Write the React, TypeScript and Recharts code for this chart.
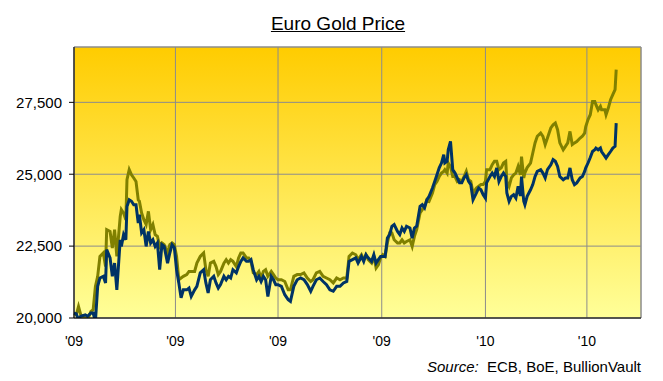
import React from 'react';
import {
  LineChart,
  Line,
  XAxis,
  YAxis,
  CartesianGrid,
  ReferenceArea,
} from 'recharts';

const dates = [
  '2009-01-01', '2009-01-03', '2009-01-05', '2009-01-07', '2009-01-11', '2009-01-13', '2009-01-16', '2009-01-18', '2009-01-20', '2009-01-22', '2009-01-24', '2009-01-27', '2009-01-29', '2009-01-30',
  '2009-02-02', '2009-02-04', '2009-02-06', '2009-02-08', '2009-02-11', '2009-02-12', '2009-02-14', '2009-02-16', '2009-02-17', '2009-02-19', '2009-02-21', '2009-02-23', '2009-02-25', '2009-02-27', '2009-02-28',
  '2009-03-02', '2009-03-04', '2009-03-06', '2009-03-08', '2009-03-10', '2009-03-12', '2009-03-14', '2009-03-16', '2009-03-18', '2009-03-20', '2009-03-22', '2009-03-25', '2009-03-27', '2009-03-29', '2009-03-31',
  '2009-04-02', '2009-04-04', '2009-04-06', '2009-04-08', '2009-04-11', '2009-04-13', '2009-04-15', '2009-04-18', '2009-04-20', '2009-04-23', '2009-04-26', '2009-04-28', '2009-04-30',
  '2009-05-02', '2009-05-05', '2009-05-07', '2009-05-09', '2009-05-11', '2009-05-14', '2009-05-16', '2009-05-18', '2009-05-20', '2009-05-22', '2009-05-25', '2009-05-27', '2009-05-29', '2009-05-31',
  '2009-06-03', '2009-06-05', '2009-06-07', '2009-06-09', '2009-06-12', '2009-06-14', '2009-06-16', '2009-06-18', '2009-06-20', '2009-06-22', '2009-06-25', '2009-06-27', '2009-06-29',
  '2009-07-01', '2009-07-04', '2009-07-07', '2009-07-10', '2009-07-12', '2009-07-15', '2009-07-18', '2009-07-21', '2009-07-24', '2009-07-27', '2009-07-30',
  '2009-08-01', '2009-08-04', '2009-08-07', '2009-08-10', '2009-08-13', '2009-08-16', '2009-08-19', '2009-08-22', '2009-08-25', '2009-08-28', '2009-08-31',
  '2009-09-02', '2009-09-05', '2009-09-08', '2009-09-10', '2009-09-13', '2009-09-15', '2009-09-17', '2009-09-19', '2009-09-22', '2009-09-24', '2009-09-26', '2009-09-28', '2009-09-30',
  '2009-10-02', '2009-10-04', '2009-10-06', '2009-10-08', '2009-10-10', '2009-10-12', '2009-10-15', '2009-10-17', '2009-10-19', '2009-10-21', '2009-10-23', '2009-10-26', '2009-10-28', '2009-10-30',
  '2009-11-01', '2009-11-04', '2009-11-06', '2009-11-08', '2009-11-10', '2009-11-12', '2009-11-15', '2009-11-17', '2009-11-19', '2009-11-21', '2009-11-23', '2009-11-25', '2009-11-26', '2009-11-28', '2009-11-29',
  '2009-12-01', '2009-12-03', '2009-12-05', '2009-12-07', '2009-12-09', '2009-12-11', '2009-12-13', '2009-12-15', '2009-12-17', '2009-12-19', '2009-12-21', '2009-12-24', '2009-12-26', '2009-12-28', '2009-12-30',
  '2010-01-01', '2010-01-02', '2010-01-05', '2010-01-07', '2010-01-09', '2010-01-11', '2010-01-13', '2010-01-15', '2010-01-17', '2010-01-19', '2010-01-20', '2010-01-22', '2010-01-24', '2010-01-26', '2010-01-28', '2010-01-30',
  '2010-02-01', '2010-02-02', '2010-02-04', '2010-02-05', '2010-02-07', '2010-02-10', '2010-02-12', '2010-02-14', '2010-02-16', '2010-02-19', '2010-02-21', '2010-02-23', '2010-02-25', '2010-02-28',
  '2010-03-02', '2010-03-04', '2010-03-06', '2010-03-08', '2010-03-11', '2010-03-13', '2010-03-15', '2010-03-17', '2010-03-19', '2010-03-21', '2010-03-23', '2010-03-26', '2010-03-28', '2010-03-30', '2010-03-31',
  '2010-04-02', '2010-04-04', '2010-04-06', '2010-04-08', '2010-04-09', '2010-04-11', '2010-04-13', '2010-04-14', '2010-04-17', '2010-04-18', '2010-04-20', '2010-04-22', '2010-04-24', '2010-04-26', '2010-04-27',
];

// olive line
const seriesOlive = [
  20150, 20110, 20400, 20110, 20000, 19940, 20230, 20290, 21100, 21450, 22140, 22260, 21790, 23070,
  23010, 22430, 23070, 22140, 23530, 23770, 23650, 23420, 24810, 25160, 24980, 24870, 24750, 24110, 24060,
  23650, 23420, 23250, 23710, 23070, 23250, 22900, 22840, 22490, 22610, 22550, 22260, 22550, 22610, 22550,
  22140, 21330, 21390, 21450, 21510, 21620, 21620, 21620, 21910, 22140, 22260, 21680, 21450,
  21910, 21970, 21790, 21510, 21620, 21910, 22030, 21910, 22030, 21970, 21790, 22090, 22260, 22260,
  22090, 22090, 21970, 21570, 21510, 21620, 21390, 21620, 21680, 21450, 21620, 21510, 21390,
  21330, 21330, 21270, 20980, 20980, 21450, 21510, 21510, 21570, 21390, 21270,
  21330, 21570, 21620, 21450, 21390, 21330, 21220, 21390, 21330, 21390, 21390,
  22140, 22260, 22200, 22030, 22200, 22030, 22200, 22030, 21910, 22140, 21740, 21850, 22090,
  22200, 22140, 22610, 22960, 22960, 22720, 22610, 22610, 22720, 22610, 22660, 22720, 22490, 22840,
  23070, 23650, 23770, 23880, 24110, 24060, 24350, 24640, 24750, 24920, 25040, 25100, 25160, 25040, 25390,
  25270, 24920, 24920, 24750, 24810, 24750, 24920, 25100, 24810, 24750, 24350, 24520, 24580, 24640, 24640,
  24750, 25160, 25160, 25330, 25450, 25450, 25160, 25220, 25390, 25450, 24750, 24580, 24870, 24980, 25040, 25270,
  24980, 25610, 24870, 25050, 25230, 25390, 25740, 26090, 26320, 26430, 26320, 26030, 26260, 26610,
  26720, 26780, 26550, 26090, 25850, 25970, 26090, 26490, 26030, 26090, 26140, 26260, 26320, 26430, 26660,
  26900, 27070, 27530, 27530, 27420, 27240, 27360, 27240, 27240, 27070, 27300, 27590, 27770, 27940, 28640,
];

// navy line
const seriesNavy = [
  20170, 20150, 19940, 20060, 20110, 20060, 20170, 20170, 19880, 21100, 21390, 21450, 21220, 22380,
  22090, 21450, 21910, 20980, 22720, 22490, 22900, 22720, 23880, 24110, 24060, 23940, 23940, 23300, 23590,
  22960, 23070, 22490, 23010, 22610, 22720, 22490, 22610, 21680, 22550, 22490, 21910, 22260, 22550, 22450,
  21680, 21220, 20700, 20980, 20980, 21040, 20750, 20980, 21100, 21570, 21680, 21220, 20870,
  21330, 21450, 21220, 21040, 21160, 21450, 21330, 21450, 21390, 21680, 21570, 21790, 21970, 22090,
  21970, 21970, 22030, 21680, 21330, 21450, 21270, 21450, 21330, 20750, 21450, 21330, 21160,
  21160, 21100, 20810, 20640, 20580, 21100, 21330, 21390, 21330, 21160, 20930,
  21100, 21330, 21390, 21270, 21160, 20980, 20930, 21100, 21100, 21220, 21270,
  21970, 22030, 22090, 21910, 22140, 21970, 22200, 22090, 21970, 22200, 21910, 22030, 22140,
  22140, 22140, 22780, 22900, 23190, 23250, 23010, 22900, 23130, 23010, 23190, 23130, 22780, 23130,
  23190, 23880, 23940, 23830, 24110, 24230, 24520, 24750, 24980, 25220, 25390, 25680, 25390, 25450, 25850,
  26140, 25160, 25040, 24870, 24700, 24700, 24870, 24980, 24750, 24640, 24110, 24350, 24520, 24460, 24290,
  24170, 24700, 24920, 25040, 24920, 25220, 24750, 24920, 25040, 24920, 24350, 24060, 24230, 24290, 24170, 24580,
  24250, 24920, 24060, 23940, 24230, 24460, 24640, 24920, 25100, 25160, 25040, 24870, 25160, 25330,
  25510, 25450, 25270, 24920, 24810, 24870, 24870, 25220, 24810, 24640, 24700, 24870, 24920, 25100, 25220,
  25390, 25580, 25790, 25850, 25910, 25850, 25910, 25790, 25620, 25560, 25680, 25790, 25910, 25970, 26780,
];

const xTickDates = ['2009-01-01', '2009-04-01', '2009-07-01', '2009-10-01', '2010-01-01', '2010-04-01'];
const xDomainDates = ['2009-01-01', '2010-05-19'];
const yTicks = [20000, 22500, 25000, 27500];
const yDomain = [20000, 29425];

const data = dates.map((d, i) => ({
  t: Date.parse(d),
  olive: seriesOlive[i],
  navy: seriesNavy[i],
}));

const xTicks = xTickDates.map((d) => Date.parse(d));
const xDomain = xDomainDates.map((d) => Date.parse(d));

const FONT = '"Liberation Sans", Arial, sans-serif';

const fmtYear = (t: number) => `'${String(new Date(t).getUTCFullYear()).slice(2)}`;
const fmtNum = (v: number) => v.toLocaleString('en-US');

export default function App() {
  return (
    <div style={{ position: 'absolute', left: 0, top: 0, width: 663, height: 381, background: '#fff', fontFamily: FONT }}>
      <div
        style={{
          position: 'absolute',
          left: 0,
          width: 676,
          top: 13,
          textAlign: 'center',
          fontSize: 19,
          textDecoration: 'underline',
          color: '#000',
        }}
      >
        Euro Gold Price
      </div>
      <LineChart
        width={663}
        height={381}
        data={data}
        margin={{ top: 47, right: 22, bottom: 33, left: 0 }}
      >
        <defs>
          <linearGradient id="plotBg" x1="0" y1="0" x2="0" y2="1">
            <stop offset="0%" stopColor="#FFCC00" />
            <stop offset="100%" stopColor="#FFFF99" />
          </linearGradient>
        </defs>
        <CartesianGrid fill="url(#plotBg)" stroke="#8c8c8c" strokeWidth={1} />
        <XAxis
          dataKey="t"
          type="number"
          scale="time"
          domain={xDomain}
          ticks={xTicks}
          tickFormatter={fmtYear}
          tickLine={false}
          axisLine={{ stroke: '#000' }}
          tick={{ fill: '#000', fontSize: 14, fontFamily: FONT }}
          tickMargin={12}
          height={30}
          interval={0}
        />
        <YAxis
          type="number"
          domain={yDomain}
          ticks={yTicks}
          allowDataOverflow
          tickFormatter={fmtNum}
          axisLine={{ stroke: '#000' }}
          tickLine={{ stroke: '#000' }}
          tickSize={5}
          tickMargin={7}
          tick={{ fill: '#000', fontSize: 15, fontFamily: FONT }}
          width={74}
          interval={0}
        />
        <ReferenceArea
          x1={xDomain[0]}
          x2={xDomain[1]}
          y1={yDomain[0]}
          y2={yDomain[1]}
          fill="none"
          stroke="#8c8c8c"
        />
        <Line
          dataKey="olive"
          type="linear"
          stroke="#808000"
          strokeWidth={3}
          dot={false}
          isAnimationActive={false}
        />
        <Line
          dataKey="navy"
          type="linear"
          stroke="#003366"
          strokeWidth={3}
          dot={false}
          isAnimationActive={false}
        />
      </LineChart>
      <div
        style={{
          position: 'absolute',
          right: 22,
          top: 358,
          fontSize: 15,
          color: '#000',
          whiteSpace: 'pre',
        }}
      >
        <i>Source:</i>{'  ECB, BoE, BullionVault'}
      </div>
    </div>
  );
}
